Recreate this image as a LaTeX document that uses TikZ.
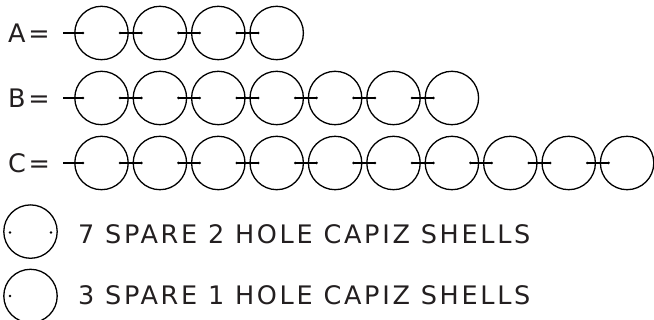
\documentclass[tikz,border=0pt]{standalone}
\usepackage{fontspec}
\newfontfamily\lblfont{DejaVu Sans}[LetterSpace=10.6]
\definecolor{ink}{HTML}{231F20}
\begin{document}
\begin{tikzpicture}[x=1pt,y=1pt,
  shell/.style={circle,draw=black,line width=1.3pt,minimum size=53.4pt,inner sep=0pt},
  link/.style={draw=black,line width=1.5pt},
  hole/.style={fill=black},
  lbl/.style={anchor=base west,inner sep=0pt,text=ink,font=\lblfont\fontsize{25.5pt}{30pt}\selectfont}]
\useasboundingbox (0,0) rectangle (654,320);
% labels
\node[lbl] (la) at (8,277.7) {A=};
\node[lbl] (lb) at (8,212.7) {B=};
\node[lbl] (lc) at (8,147.7) {C=};
% rows
\foreach \row/\n/\y in {a/4/287, b/7/222, c/10/157}{
  \foreach \k in {1,...,\n}{
    \node[shell] (\row\k) at ({101.5+58.4*(\k-1)},\y) {};
  }
  \coordinate (\row lead) at ([xshift=-38.2pt]\row1.center);
  \draw[link] (\row lead) -- ([xshift=-18.5pt]\row1.center);
  \fill[hole] ([xshift=-18.5pt]\row1.center) circle (1.4pt);
  \pgfmathtruncatemacro{\m}{\n-1}
  \foreach \k in {1,...,\m}{
    \pgfmathtruncatemacro{\j}{\k+1}
    \draw[link] ([xshift=18.5pt]\row\k.center) -- ([xshift=-18.5pt]\row\j.center);
    \fill[hole] ([xshift=18.5pt]\row\k.center) circle (1.4pt);
    \fill[hole] ([xshift=-18.5pt]\row\j.center) circle (1.4pt);
  }
}
% legend
\node[shell] (s2) at (30.5,88.4) {};
\fill[hole] ([xshift=-20.5pt,yshift=-1pt]s2.center) circle (1.4pt);
\fill[hole] ([xshift=20.5pt,yshift=-1pt]s2.center) circle (1.4pt);
\node[lbl] (t2) at (78,76) {7 SPARE 2 HOLE CAPIZ SHELLS};
\node[shell] (s1) at (30.5,24) {};
\fill[hole] ([xshift=-20.5pt]s1.center) circle (1.4pt);
\node[lbl] (t1) at (78,15) {3 SPARE 1 HOLE CAPIZ SHELLS};
\end{tikzpicture}
\end{document}
